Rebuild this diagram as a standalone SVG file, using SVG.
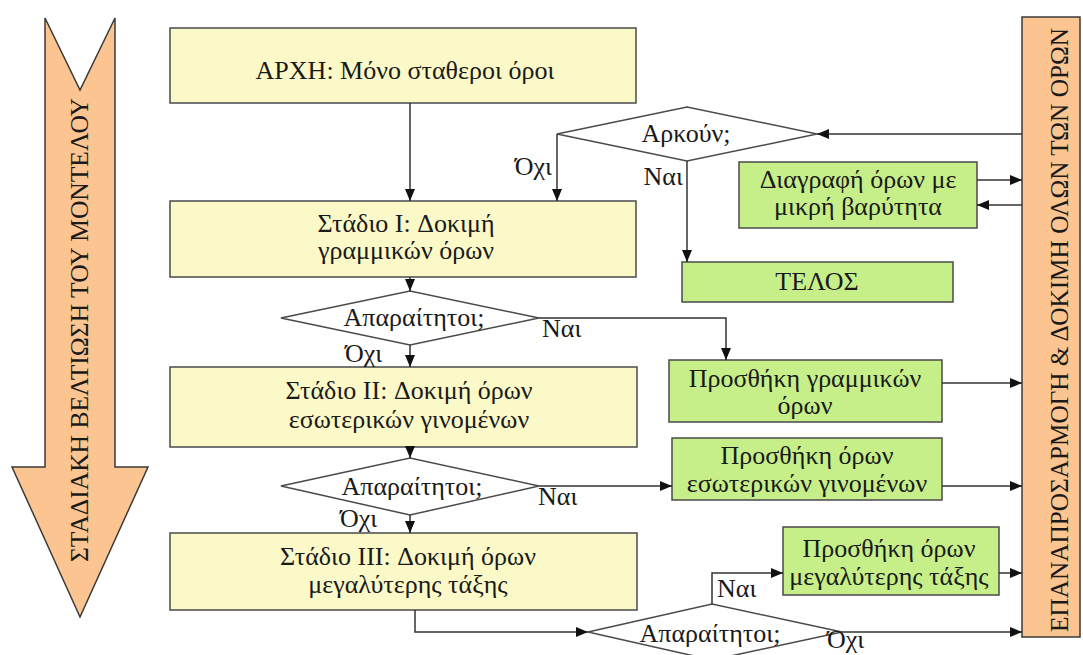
<svg xmlns="http://www.w3.org/2000/svg" width="1083" height="655" viewBox="0 0 1083 655">
<style>
  text { font-family: "Liberation Serif", "DejaVu Serif", serif; font-size: 26px; fill: #1a1a1a; }
  .rot { font-size: 25px; }
  .mid { text-anchor: middle; }
  .end { text-anchor: end; }
  .yel { fill: #FCF9C8; stroke: #4a4a4a; stroke-width: 1.5; }
  .grn { fill: #C6EF8A; stroke: #4a4a4a; stroke-width: 1.5; }
  .org { fill: #FBC490; stroke: #3a3a3a; stroke-width: 1.5; }
  .dia { fill: #ffffff; stroke: #4a4a4a; stroke-width: 1.5; }
  .con { fill: none; stroke: #333333; stroke-width: 1.5; marker-end: url(#ah); }
</style>
<defs>
  <marker id="ah" markerUnits="userSpaceOnUse" markerWidth="13" markerHeight="11" refX="12" refY="5" orient="auto">
    <path d="M0,0 L12,5 L0,10 z" fill="#111111"/>
  </marker>
</defs>
<rect width="1083" height="655" fill="#ffffff"/>

<g id="arrow-left">
  <polygon class="org" points="45,18 80,90 115,18 115,467 148,467 80,617 12,467 45,467"/>
  <text class="mid rot" transform="translate(88,330) rotate(-90)" textLength="464" lengthAdjust="spacingAndGlyphs">ΣΤΑΔΙΑΚΗ ΒΕΛΤΙΩΣΗ ΤΟΥ ΜΟΝΤΕΛΟΥ</text>
</g>

<g id="bar-right">
  <rect class="org" x="1022" y="17" width="58" height="620"/>
  <text class="mid rot" transform="translate(1068,330) rotate(-90)" textLength="604" lengthAdjust="spacingAndGlyphs">ΕΠΑΝΑΠΡΟΣΑΡΜΟΓΗ &amp; ΔΟΚΙΜΗ ΟΛΩΝ ΤΩΝ ΟΡΩΝ</text>
</g>

<g id="start">
  <rect class="yel" x="170" y="28" width="466" height="75"/>
  <text class="mid" x="405" y="79">ΑΡΧΗ: Μόνο σταθεροι όροι</text>
</g>

<g id="stage1">
  <rect class="yel" x="170" y="201" width="466" height="76"/>
  <text class="mid" x="406" y="232">Στάδιο I: Δοκιμή</text>
  <text class="mid" x="406" y="259">γραμμικών όρων</text>
</g>

<g id="stage2">
  <rect class="yel" x="170" y="367" width="467" height="80"/>
  <text class="mid" x="409" y="399">Στάδιο II: Δοκιμή όρων</text>
  <text class="mid" x="409" y="428">εσωτερικών γινομένων</text>
</g>

<g id="stage3">
  <rect class="yel" x="170" y="533" width="467" height="77"/>
  <text class="mid" x="408" y="565">Στάδιο III: Δοκιμή όρων</text>
  <text class="mid" x="408" y="593">μεγαλύτερης τάξης</text>
</g>

<g id="dec-enough">
  <polygon class="dia" points="557,134 687,107 817,134 687,161"/>
  <text class="mid" x="686" y="142">Αρκούν;</text>
</g>

<g id="delete">
  <rect class="grn" x="739" y="162" width="238" height="66"/>
  <text class="mid" x="858" y="188">Διαγραφή όρων με</text>
  <text class="mid" x="858" y="215">μικρή βαρύτητα</text>
</g>

<g id="end">
  <rect class="grn" x="682" y="262" width="271" height="40"/>
  <text class="mid" x="817" y="290">ΤΕΛΟΣ</text>
</g>

<g id="dec1">
  <polygon class="dia" points="281,318 410,291 539,318 410,345"/>
  <text class="mid" x="414" y="326">Απαραίτητοι;</text>
</g>

<g id="add-linear">
  <rect class="grn" x="669" y="360" width="273" height="62"/>
  <text class="mid" x="805" y="387">Προσθήκη γραμμικών</text>
  <text class="mid" x="805" y="414">όρων</text>
</g>

<g id="dec2">
  <polygon class="dia" points="281,486 410,458 539,486 410,515"/>
  <text class="mid" x="412" y="495">Απαραίτητοι;</text>
</g>

<g id="add-inner">
  <rect class="grn" x="672" y="438" width="270" height="62"/>
  <text class="mid" x="807" y="464">Προσθήκη όρων</text>
  <text class="mid" x="807" y="492">εσωτερικών γινομένων</text>
</g>

<g id="dec3">
  <polygon class="dia" points="588,632 712,604 842,632 712,660"/>
  <text class="mid" x="710" y="642">Απαραίτητοι;</text>
</g>

<g id="add-higher">
  <rect class="grn" x="783" y="527" width="216" height="68"/>
  <text class="mid" x="889" y="557">Προσθήκη όρων</text>
  <text class="mid" x="889" y="585">μεγαλύτερης τάξης</text>
</g>

<g id="connectors">
  <path class="con" d="M410,103 V201"/>
  <path class="con" d="M557,134 V201"/>
  <path class="con" d="M687,161 V262"/>
  <path class="con" d="M1022,134 H817"/>
  <path class="con" d="M977,180 H1022"/>
  <path class="con" d="M1022,205 H977"/>
  <path class="con" d="M410,277 V291"/>
  <path class="con" d="M539,318 H726 V360"/>
  <path class="con" d="M410,345 V367"/>
  <path class="con" d="M942,383 H1022"/>
  <path class="con" d="M410,447 V458"/>
  <path class="con" d="M539,486 H672"/>
  <path class="con" d="M942,486 H1022"/>
  <path class="con" d="M410,515 V533"/>
  <path class="con" d="M415,610 V632 H588"/>
  <path class="con" d="M712,604 V573 H783"/>
  <path class="con" d="M999,573 H1022"/>
  <path class="con" d="M842,632 H1022"/>
  <g id="labels">
    <text class="end" x="552" y="175">Όχι</text>
    <text class="end" x="683" y="185">Ναι</text>
    <text x="542" y="337">Ναι</text>
    <text x="345" y="362">Όχι</text>
    <text x="538" y="505">Ναι</text>
    <text x="340" y="527">Όχι</text>
    <text x="717" y="597">Ναι</text>
    <text x="827" y="648">Όχι</text>
  </g>
</g>
</svg>
